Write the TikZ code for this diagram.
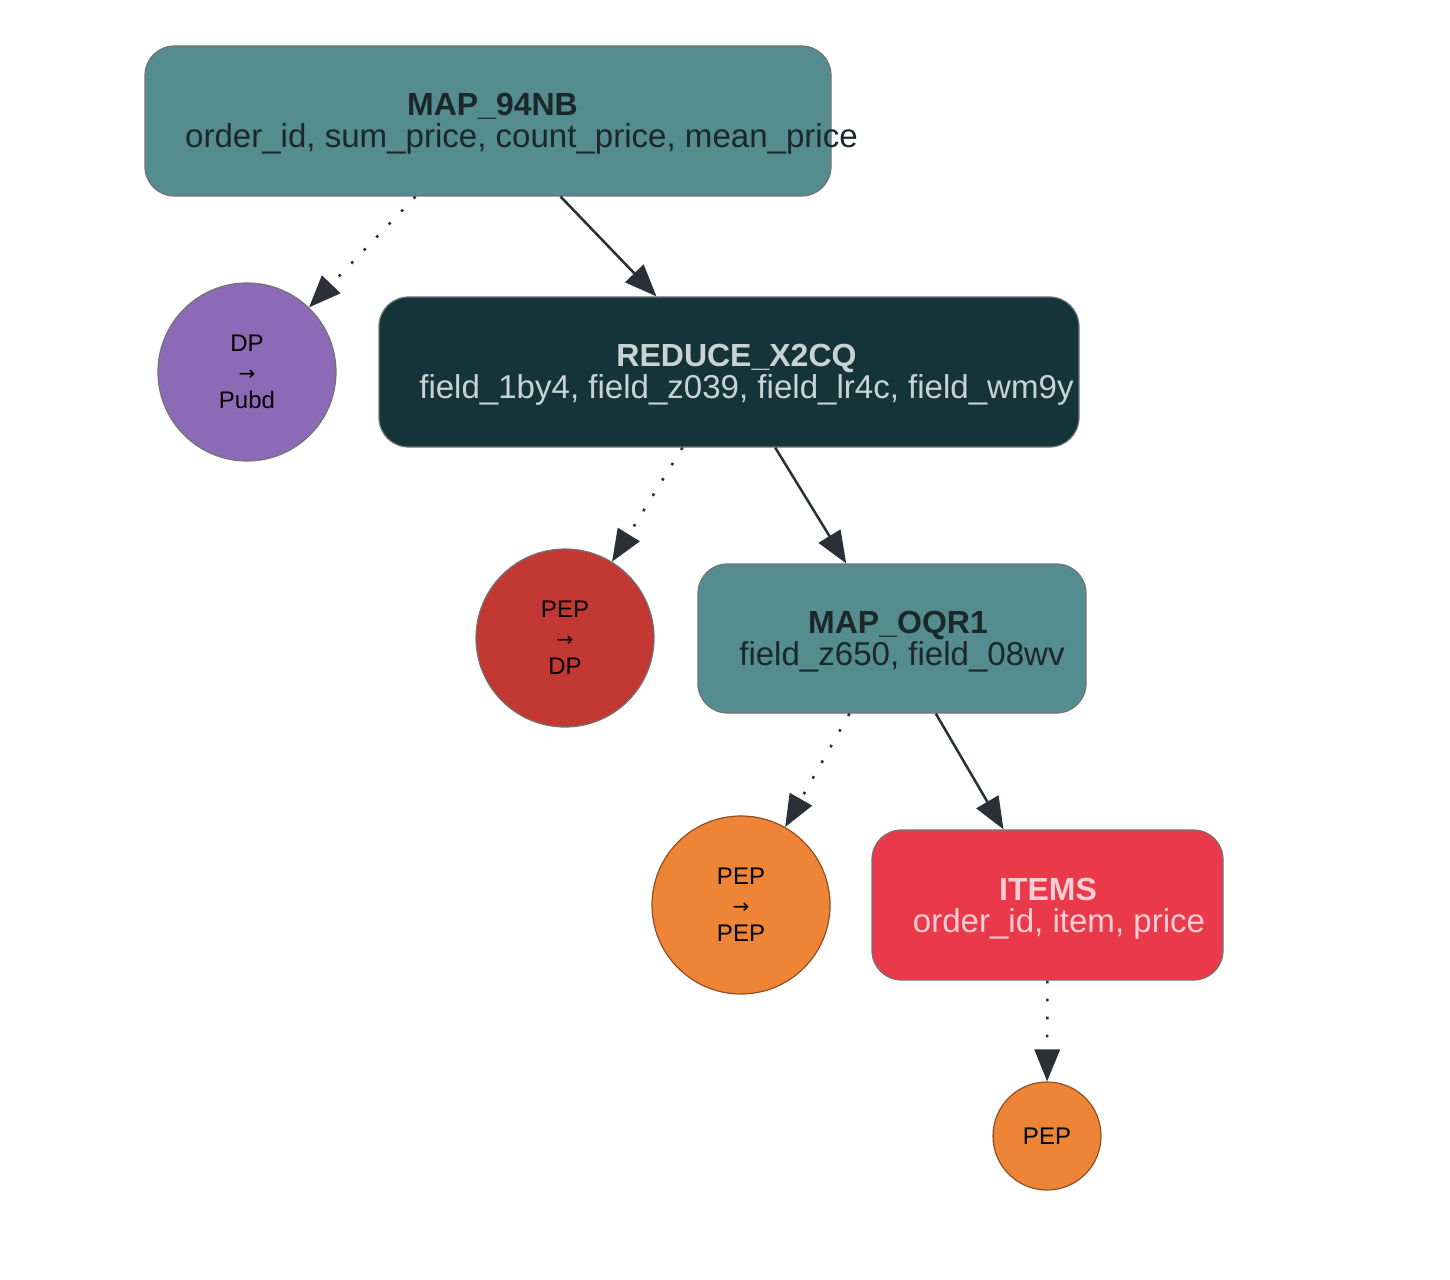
\documentclass[tikz,border=0pt]{standalone}
\usepackage{fontspec}
\setmainfont{Liberation Sans}
\newfontfamily\arrowfont{DejaVu Sans}
\usetikzlibrary{arrows.meta}
\definecolor{mapteal}{RGB}{85,140,143}
\definecolor{reddark}{RGB}{21,52,58}
\definecolor{itemred}{RGB}{233,57,75}
\definecolor{dppurple}{RGB}{141,106,184}
\definecolor{peprust}{RGB}{195,56,50}
\definecolor{peporange}{RGB}{238,132,54}
\definecolor{inkdark}{RGB}{26,40,41}
\definecolor{inklight}{RGB}{200,212,212}
\definecolor{inkpink}{RGB}{255,205,210}
\definecolor{edgeink}{RGB}{43,47,56}
\newcommand{\hopto}{{\arrowfont\fontsize{15}{21.5}\selectfont →}}
\tikzset{
  opbox/.style={draw=black!55, line width=0.9pt, rounded corners=22pt, inner sep=0pt},
  optitle/.style={anchor=base, inner sep=0pt, font=\fontsize{24}{26}\selectfont\bfseries},
  opfields/.style={anchor=base, inner sep=0pt, font=\fontsize{24.8}{26}\selectfont},
  hop/.style={circle, draw=black!55, line width=0.9pt, align=center, inner sep=0pt,
    font=\fontsize{18}{21.5}\selectfont},
  flow/.style={draw=edgeink, line width=1.9pt, -{Triangle[length=24pt,width=19pt]}},
  lineage/.style={flow, dash pattern=on 2pt off 11.5pt}
}
\begin{document}
\begin{tikzpicture}[x=0.75pt,y=0.75pt,yscale=-1,xscale=1]
\useasboundingbox (0,0) rectangle (1450,1280);
%Shape: Rounded Rect
\node[opbox, fill=mapteal, minimum width=514.5pt, minimum height=112.5pt] (m94) at (488,121) {};
\node[opbox, fill=reddark, minimum width=525pt, minimum height=112.5pt] (x2cq) at (729,372) {};
\node[opbox, fill=mapteal, minimum width=291pt, minimum height=111.75pt] (oqr1) at (892,638.5) {};
\node[opbox, fill=itemred, minimum width=263.25pt, minimum height=112.5pt] (items) at (1047.5,905) {};
%Shape: Circle
\node[hop, fill=dppurple, minimum size=133.5pt] (dp) at (247,372) {DP\\\hopto\\Pubd};
\node[hop, fill=peprust, minimum size=133.5pt] (pepdp) at (565,638) {PEP\\\hopto\\DP};
\node[hop, fill=peporange, draw=peporange!60!black, minimum size=133.5pt] (peppep) at (741,905) {PEP\\\hopto\\PEP};
\node[hop, fill=peporange, draw=peporange!60!black, minimum size=81pt] (pep) at (1047,1136) {PEP};
% Text Node
\node[optitle, text=inkdark] (t94) at (492.5,116) {MAP\_94NB};
\node[opfields, text=inkdark] (f94) at (521.5,148) {order\_id, sum\_price, count\_price, mean\_price};
\node[optitle, text=inklight] (tx2) at (736.5,367) {REDUCE\_X2CQ};
\node[opfields, text=inklight] (fx2) at (746.5,398) {field\_1by4, field\_z039, field\_lr4c, field\_wm9y};
\node[optitle, text=inkdark] (toq) at (898,633) {MAP\_OQR1};
\node[opfields, text=inkdark] (foq) at (902,665) {field\_z650, field\_08wv};
\node[optitle, text=inkpink] (tit) at (1048,900) {ITEMS};
\node[opfields, text=inkpink] (fit) at (1059,932) {order\_id, item, price};
%Straight Lines
\draw[lineage] (m94) -- (dp);
\draw[flow] (m94) -- (x2cq);
\draw[lineage] (x2cq) -- (pepdp);
\draw[flow] (x2cq) -- (oqr1);
\draw[lineage] (oqr1) -- (peppep);
\draw[flow] (oqr1) -- (items);
\draw[lineage] (items) -- (pep);
\end{tikzpicture}
\end{document}
